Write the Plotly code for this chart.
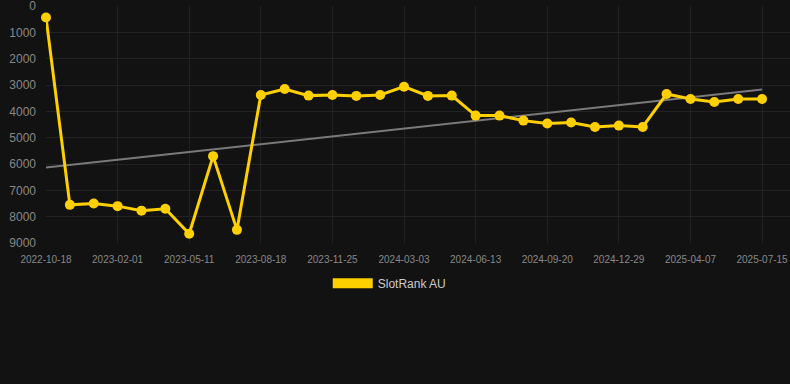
import numpy as np
import plotly.graph_objects as go

dates = [
    "2022-10-18", "2022-11-22", "2022-12-27",
    "2023-02-01", "2023-03-05", "2023-04-07",
    "2023-05-11", "2023-06-13", "2023-07-16",
    "2023-08-18", "2023-09-20", "2023-10-23",
    "2023-11-25", "2023-12-28", "2024-01-30",
    "2024-03-03", "2024-04-06", "2024-05-10",
    "2024-06-13", "2024-07-16", "2024-08-18",
    "2024-09-20", "2024-10-23", "2024-11-26",
    "2024-12-29", "2025-01-31", "2025-03-05",
    "2025-04-07", "2025-05-09", "2025-06-11",
    "2025-07-15",
]
ranks = [
    430, 7550, 7500, 7600, 7770, 7700, 8650, 5700, 8500,
    3375, 3150, 3400, 3375, 3410, 3375, 3060, 3410, 3400,
    4160, 4160, 4350, 4460, 4420, 4590, 4540, 4590,
    3340, 3530, 3640, 3530, 3530,
]
tick_labels = dates[::3]
y_ticks = [0, 1000, 2000, 3000, 4000, 5000, 6000, 7000, 8000, 9000]

idx = np.arange(len(ranks))
slope, intercept = np.polyfit(idx, ranks, 1)
trend = slope * idx + intercept

YELLOW = "#ffd000"

fig = go.Figure()
fig.add_trace(go.Scatter(
    x=idx, y=trend, mode="lines",
    line=dict(color="#7a7a7a", width=2),
    showlegend=False, hoverinfo="skip", cliponaxis=False,
))
fig.add_trace(go.Scatter(
    x=idx, y=ranks, mode="lines+markers", name="SlotRank AU",
    line=dict(color=YELLOW, width=3),
    marker=dict(color=YELLOW, size=10),
    cliponaxis=False, showlegend=False,
))
# legend entry drawn as a filled rectangle
fig.add_trace(go.Scatter(
    x=[None], y=[None], mode="lines", name="SlotRank AU",
    line=dict(color=YELLOW, width=10),
    showlegend=True, hoverinfo="skip",
))

fig.update_layout(
    width=790, height=384,
    margin=dict(l=46, r=0, t=6, b=141),
    paper_bgcolor="#121212", plot_bgcolor="#121212",
    font=dict(family="Liberation Sans, Arial, sans-serif", color="#888888"),
    xaxis=dict(
        range=[0, 31.17],
        tickmode="array", tickvals=idx[::3].tolist(), ticktext=tick_labels,
        tickfont=dict(size=10, color="#888888"),
        showgrid=True, gridcolor="#222222", gridwidth=1,
        zeroline=False, showline=False, ticks="",
        ticklabelstandoff=9,
    ),
    yaxis=dict(
        range=[9000, -5], autorange=False,
        tickmode="array", tickvals=y_ticks, ticktext=[str(v) for v in y_ticks],
        tickfont=dict(size=12, color="#888888"),
        showgrid=True, gridcolor="#222222", gridwidth=1,
        zeroline=False, showline=False, ticks="",
        ticklabelstandoff=9, ticklabeloverflow="allow",
    ),
    legend=dict(
        orientation="h", x=0.462, xanchor="center", y=-0.17, yanchor="middle",
        font=dict(size=12, color="#cccccc"),
        bgcolor="rgba(0,0,0,0)", itemwidth=40,
    ),
    showlegend=True,
)

fig.write_html(
    "out.html",
    config={"displayModeBar": False},
    post_script="document.body.style.margin='0';document.body.style.background='#121212';",
)
